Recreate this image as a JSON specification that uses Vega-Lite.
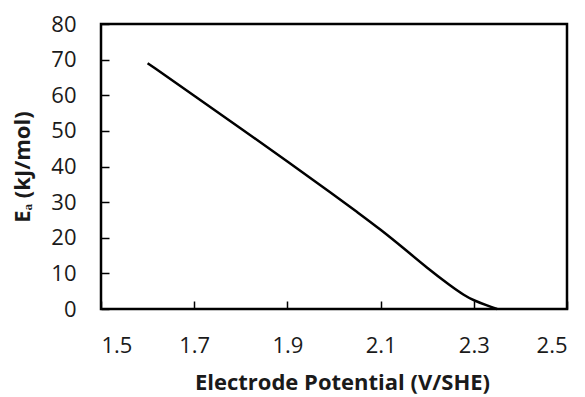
{
  "$schema": "https://vega.github.io/schema/vega-lite/v6.json",
  "width": 466,
  "height": 285,
  "autosize": {"type": "none"},
  "padding": {"left": 101, "top": 24, "right": 18, "bottom": 88},
  "background": "white",
  "config": {
    "view": {"stroke": "black", "strokeWidth": 2.5},
    "axis": {
      "labelFont": "Open Sans",
      "labelFontSize": 22,
      "labelColor": "#1a1a1a",
      "titleFont": "Open Sans",
      "titleFontWeight": "bold",
      "titleColor": "#1a1a1a",
      "grid": false,
      "domain": false,
      "tickColor": "black",
      "tickWidth": 1.5,
      "tickSize": -8
    }
  },
  "data": {
    "values": [
      {"V": 1.6, "Ea": 69.0},
      {"V": 1.7, "Ea": 59.9},
      {"V": 1.8, "Ea": 50.7},
      {"V": 1.9, "Ea": 41.4},
      {"V": 2.0, "Ea": 32.0},
      {"V": 2.05, "Ea": 27.2},
      {"V": 2.1, "Ea": 22.3},
      {"V": 2.15, "Ea": 17.0},
      {"V": 2.2, "Ea": 11.5},
      {"V": 2.25, "Ea": 6.5},
      {"V": 2.28, "Ea": 3.8},
      {"V": 2.3, "Ea": 2.4},
      {"V": 2.33, "Ea": 0.9},
      {"V": 2.35, "Ea": 0.0}
    ]
  },
  "mark": {"type": "line", "color": "black", "strokeWidth": 2.5, "interpolate": "basis"},
  "encoding": {
    "x": {
      "field": "V",
      "type": "quantitative",
      "scale": {"domain": [1.5, 2.5], "nice": false},
      "axis": {
        "values": [1.5, 1.7, 1.9, 2.1, 2.3, 2.5],
        "format": ".1f",
        "labelPadding": 34,
        "title": "Electrode Potential (V/SHE)",
        "titleFontSize": 22,
        "titlePadding": 16,
        "titleX": 241
      }
    },
    "y": {
      "field": "Ea",
      "type": "quantitative",
      "scale": {"domain": [0, 80], "nice": false},
      "axis": {
        "values": [0, 10, 20, 30, 40, 50, 60, 70, 80],
        "labelPadding": 33,
        "title": "Eₐ (kJ/mol)",
        "titleFontSize": 22,
        "titlePadding": 16
      }
    }
  }
}
